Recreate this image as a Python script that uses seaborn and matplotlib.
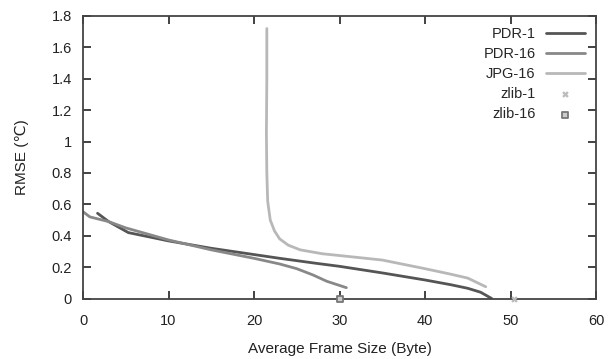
import numpy as np
import pandas as pd
import matplotlib
matplotlib.use("Agg")
import matplotlib.pyplot as plt
import seaborn as sns

# data
pdr1_x = [1.7, 3.0, 5.3, 10.0, 15.0, 20.0, 23.0, 27.3, 30.0, 35.0, 40.0, 43.0, 45.0, 46.5, 47.8]
pdr1_y = [0.543, 0.49, 0.42, 0.367, 0.32, 0.28, 0.256, 0.224, 0.205, 0.163, 0.118, 0.088, 0.065, 0.04, 0.0]

pdr16_x = [0.0, 0.8, 3.0, 5.0, 10.0, 15.0, 20.0, 23.0, 25.0, 26.9, 28.5, 30.8]
pdr16_y = [0.553, 0.52, 0.49, 0.45, 0.373, 0.31, 0.256, 0.22, 0.19, 0.15, 0.11, 0.069]

jpg16_x = [21.5, 21.5, 21.45, 21.5, 21.6, 21.9, 22.4, 23.0, 24.0, 25.4, 28.0, 31.0, 35.0, 40.0, 43.0, 45.0, 47.1]
jpg16_y = [1.72, 1.4, 1.05, 0.8, 0.62, 0.50, 0.43, 0.38, 0.34, 0.31, 0.285, 0.268, 0.245, 0.19, 0.155, 0.13, 0.075]

zlib1_x, zlib1_y = [50.4], [0.0]
zlib16_x, zlib16_y = [30.0], [0.0]

sns.set_style("ticks")
plt.rcParams["font.family"] = ["Liberation Sans", "DejaVu Sans"]
plt.rcParams.update({
    "xtick.direction": "in", "ytick.direction": "in",
    "xtick.major.size": 6, "ytick.major.size": 6,
    "xtick.major.width": 1.2, "ytick.major.width": 1.2,
    "xtick.major.pad": 11, "ytick.major.pad": 8,
    "xtick.top": True, "xtick.bottom": True,
    "ytick.left": True, "ytick.right": True,
    "xtick.color": "#222222", "ytick.color": "#222222",
    "xtick.labelsize": 10.5, "ytick.labelsize": 10.5,
})

fig = plt.figure(figsize=(6.14, 3.59), dpi=100)
ax = fig.add_axes([83 / 614, 1 - 298.5 / 359, (596 - 83) / 614, (298.5 - 16) / 359])

line_kw = dict(ax=ax, lw=2.0, sort=False, estimator=None)
sns.lineplot(x=pdr1_x, y=pdr1_y, color="#555555", label="PDR-1", **line_kw)
sns.lineplot(x=pdr16_x, y=pdr16_y, color="#888888", label="PDR-16", **line_kw)
sns.lineplot(x=jpg16_x, y=jpg16_y, color="#b8b8b8", label="JPG-16", **line_kw)
sns.scatterplot(x=zlib1_x, y=zlib1_y, ax=ax, marker="X", color="#bbbbbb", s=22,
                linewidth=0, label="zlib-1", zorder=5, clip_on=False)
sns.scatterplot(x=zlib16_x, y=zlib16_y, ax=ax, marker="s", color="#cccccc", s=22,
                edgecolor="#777777", linewidth=1.3, label="zlib-16", zorder=5, clip_on=False)

ax.set_xlim(0, 60)
ax.set_ylim(0, 1.8)
ax.set_xticks(np.arange(0, 61, 10))
ax.set_yticks(np.arange(0, 1.81, 0.2))
ax.set_yticklabels(["0", "0.2", "0.4", "0.6", "0.8", "1", "1.2", "1.4", "1.6", "1.8"])
for s in ax.spines.values():
    s.set_visible(True)
    s.set_color("#444444")
    s.set_linewidth(1.3)

# make sure the x ticks are drawn on both sides
ax.xaxis.set_tick_params(which="major", direction="in", length=6, width=1.2,
                         color="#222222", bottom=True, top=True)
for t in ax.xaxis.get_major_ticks():
    for ln in (t.tick1line, t.tick2line):
        ln.set_visible(True)
        ln.set_markersize(6)
        ln.set_markeredgewidth(1.2)
        ln.set_zorder(6)

ax.set_xlabel("Average Frame Size (Byte)", fontsize=11, color="#222222", labelpad=10)
ax.set_ylabel("RMSE (\u2103)", fontsize=11, color="#222222", labelpad=16)

ax.legend(loc="upper right", frameon=False, markerfirst=False, fontsize=10.5,
          handlelength=2.7, handletextpad=0.7, labelspacing=0.42,
          borderaxespad=0.35)

fig.savefig("out.png", dpi=100)
